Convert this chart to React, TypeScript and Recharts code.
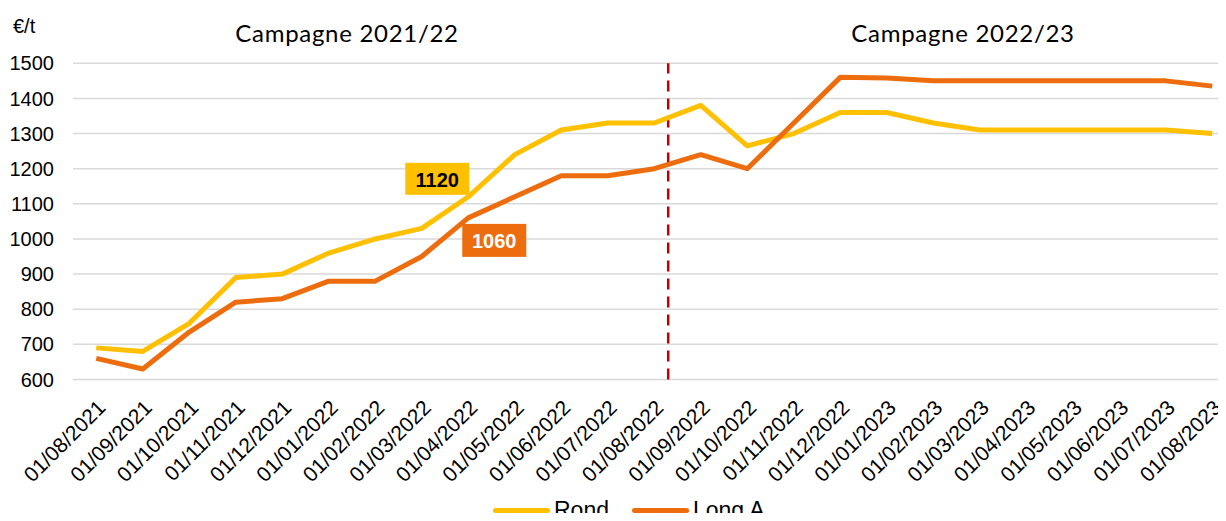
import React from "react";
import {
  LineChart,
  Line,
  XAxis,
  YAxis,
  CartesianGrid,
  ReferenceLine,
  Legend,
  LabelList,
} from "recharts";

// Monthly prices, €/t
const months = [
  "01/08/2021", "01/09/2021", "01/10/2021", "01/11/2021", "01/12/2021",
  "01/01/2022", "01/02/2022", "01/03/2022", "01/04/2022", "01/05/2022",
  "01/06/2022", "01/07/2022", "01/08/2022", "01/09/2022", "01/10/2022",
  "01/11/2022", "01/12/2022", "01/01/2023", "01/02/2023", "01/03/2023",
  "01/04/2023", "01/05/2023", "01/06/2023", "01/07/2023", "01/08/2023",
];
const rond = [
  690, 680, 760, 890, 900, 960, 1000, 1030, 1120, 1240, 1310, 1330, 1330,
  1380, 1265, 1300, 1360, 1360, 1330, 1310, 1310, 1310, 1310, 1310, 1300,
];
const longA = [
  660, 630, 735, 820, 830, 880, 880, 950, 1060, 1120, 1180, 1180, 1200,
  1240, 1200, 1330, 1460, 1458, 1450, 1450, 1450, 1450, 1450, 1450, 1435,
];
const yTicks = [600, 700, 800, 900, 1000, 1100, 1200, 1300, 1400, 1500];
const campaigns = ["Campagne 2021/22", "Campagne 2022/23"];
const campaignSplit = 12.3; // between Aug and Sep 2022
const labelledIndex = 8; // 01/04/2022

const ROND = "#FFC000";
const LONG_A = "#ED6D0E";
const GRID = "#D9D9D9";
const FONT = "'Liberation Sans', Arial, sans-serif";

const series = [
  { key: "rond", name: "Rond", color: ROND },
  { key: "longA", name: "Long A", color: LONG_A },
];

const rows = months.map((m, i) => ({ i, month: m, rond: rond[i], longA: longA[i] }));
const centers = months.map((_, i) => i);
const edges = [...months.map((_, i) => i - 0.5), months.length - 0.5];

const RondLabel = (props: any) => {
  const { x, y, value, index } = props;
  if (index !== labelledIndex) return null;
  return (
    <g>
      <rect x={x - 63} y={y - 34} width={64} height={32} fill={ROND} />
      <text
        x={x - 31}
        y={y - 17}
        textAnchor="middle"
        dominantBaseline="central"
        fontFamily={FONT}
        fontWeight="bold"
        fontSize={20}
        fill="#000"
      >
        {value}
      </text>
    </g>
  );
};

const LongALabel = (props: any) => {
  const { x, y, value, index } = props;
  if (index !== labelledIndex) return null;
  return (
    <g>
      <rect x={x - 6} y={y + 6} width={64} height={33} fill={LONG_A} />
      <text
        x={x + 26}
        y={y + 23}
        textAnchor="middle"
        dominantBaseline="central"
        fontFamily={FONT}
        fontWeight="bold"
        fontSize={20}
        fill="#fff"
      >
        {value}
      </text>
    </g>
  );
};

const renderLegend = () => (
  <div
    style={{
      display: "flex",
      alignItems: "center",
      height: 30,
      fontFamily: FONT,
      fontSize: 23,
      color: "#000",
    }}
  >
    {series.map((s) => (
      <div key={s.key} style={{ display: "flex", alignItems: "center", marginRight: 23 }}>
        <span
          style={{
            display: "inline-block",
            width: 57,
            height: 5,
            borderRadius: 3,
            background: s.color,
            marginRight: 4,
          }}
        />
        <span style={{ lineHeight: "24px" }}>{s.name}</span>
      </div>
    ))}
  </div>
);

export default function App() {
  return (
    <div
      style={{
        position: "relative",
        margin: -8,
        width: 1226,
        height: 521,
        overflow: "hidden",
        background: "#fff",
      }}
    >
      <LineChart
        width={1250}
        height={521}
        data={rows}
        margin={{ top: 63.3, right: 14.5, bottom: 0, left: 0 }}
      >
        <CartesianGrid
          xAxisId="main"
          vertical={false}
          stroke={GRID}
          strokeWidth={1.5}
        />
        <XAxis
          xAxisId="edges"
          type="number"
          dataKey="i"
          domain={[-0.5, months.length - 0.5]}
          ticks={edges}
          interval={0}
          tick={false}
          tickSize={5}
          tickLine={{ stroke: GRID, strokeWidth: 1.5 }}
          axisLine={{ stroke: GRID, strokeWidth: 1.5 }}
          height={0}
        />
        <XAxis
          xAxisId="main"
          type="number"
          dataKey="i"
          domain={[-0.5, months.length - 0.5]}
          ticks={centers}
          interval={0}
          tickFormatter={(v: number) => months[v]}
          angle={-45}
          textAnchor="end"
          tickLine={false}
          axisLine={false}
          tickMargin={13}
          height={111.5}
          tick={{ fill: "#000", fontSize: 21, fontFamily: FONT }}
        />
        <YAxis
          type="number"
          domain={[600, 1500]}
          ticks={yTicks}
          interval={0}
          axisLine={false}
          tickLine={false}
          tickMargin={13}
          width={73}
          tick={{ fill: "#000", fontSize: 20, fontFamily: FONT }}
        />
        <ReferenceLine
          xAxisId="main"
          x={campaignSplit}
          stroke="#C00000"
          strokeWidth={2.5}
          strokeDasharray="11 7"
        />
        <Legend
          verticalAlign="bottom"
          height={30}
          content={renderLegend}
          wrapperStyle={{ left: 493, top: 495, width: 400 }}
        />
        <Line
          xAxisId="main"
          name="Rond"
          dataKey="rond"
          stroke={ROND}
          strokeWidth={5}
          strokeLinejoin="round"
          dot={false}
          activeDot={false}
          isAnimationActive={false}
        >
          <LabelList dataKey="rond" content={RondLabel} />
        </Line>
        <Line
          xAxisId="main"
          name="Long A"
          dataKey="longA"
          stroke={LONG_A}
          strokeWidth={5}
          strokeLinejoin="round"
          dot={false}
          activeDot={false}
          isAnimationActive={false}
        >
          <LabelList dataKey="longA" content={LongALabel} />
        </Line>
      </LineChart>

      <div
        style={{
          position: "absolute",
          left: 13,
          top: 16,
          fontFamily: FONT,
          fontSize: 20,
          lineHeight: "20px",
          color: "#000",
        }}
      >
        €/t
      </div>
      {campaigns.map((c, k) => (
        <div
          key={c}
          style={{
            position: "absolute",
            left: k === 0 ? 347 : 963,
            top: 21,
            transform: "translateX(-50%)",
            whiteSpace: "nowrap",
            fontFamily: "Lato, sans-serif",
            fontSize: 24,
            letterSpacing: 0.7,
            lineHeight: "24px",
            color: "#000",
          }}
        >
          {c}
        </div>
      ))}
    </div>
  );
}
